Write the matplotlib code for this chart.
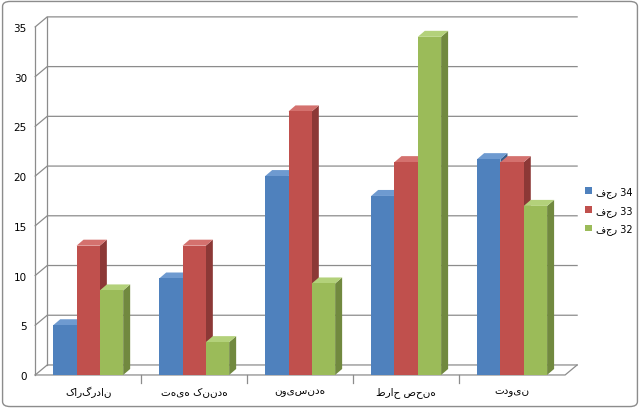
import matplotlib
matplotlib.use("Agg")
import matplotlib.pyplot as plt
from matplotlib.patches import Polygon, Rectangle, FancyBboxPatch
from matplotlib.lines import Line2D

categories = ["کارگردان", "تهیه کننده", "نویسنده", "طراح صحنه", "تدوین"]
series_names = ["فجر 34", "فجر 33", "فجر 32"]
fajr34 = [5.0, 9.7, 20.0, 18.0, 21.7]
fajr33 = [13.0, 13.0, 26.5, 21.4, 21.4]
fajr32 = [8.5, 3.3, 9.2, 34.0, 17.0]
yticks = [0, 5, 10, 15, 20, 25, 30, 35]

front = ["#4F81BD", "#C0504D", "#9BBB59"]
side = ["#385D8A", "#8C3836", "#71893F"]
top = ["#6E9AD0", "#D4716E", "#B3D17A"]

plt.rcParams['font.family'] = ['DejaVu Sans']
fig = plt.figure(figsize=(6.4, 4.1), dpi=100)
fig.patch.set_facecolor("white")
fig.patches.append(FancyBboxPatch((0.004, 0.006), 0.992, 0.988, boxstyle="round,pad=0,rounding_size=0.012",
                                  transform=fig.transFigure, fill=False, ec="#8C8C8C", lw=1))
ax = fig.add_axes([0.055, 0.083, 0.828, 0.849])
ax.set_xlim(-0.5, 4.5)
ax.set_ylim(0, 35)
for s in ax.spines.values():
    s.set_visible(False)
ax.set_facecolor("none")

pxx = 0.828 * 640 / 5.0
pxy = 0.849 * 410 / 35.0
wdx, wdy = 12 / pxx, 10 / pxy   # back-wall depth
bdx, bdy = 7 / pxx, 6 / pxy     # bar depth
grid_c = "#8C8C8C"
for t in yticks:
    ax.add_line(Line2D([-0.5, -0.5 + wdx, 4.5 + wdx], [t, t + wdy, t + wdy], color=grid_c, lw=0.9, clip_on=False))
ax.add_line(Line2D([-0.5 + wdx, -0.5 + wdx], [wdy, 35 + wdy], color=grid_c, lw=0.9, clip_on=False))
ax.add_line(Line2D([-0.5, -0.5], [0, 35], color=grid_c, lw=0.9, clip_on=False))
ax.add_line(Line2D([-0.5, 4.5, 4.5 + wdx], [0, 0, wdy], color=grid_c, lw=0.9, clip_on=False))
for i in range(1, 5):
    ax.add_line(Line2D([i - 0.5, i - 0.5], [0, -0.8], color=grid_c, lw=0.9, clip_on=False))

w = 0.22
data = [fajr34, fajr33, fajr32]
for si, vals in enumerate(data):
    for ci, v in enumerate(vals):
        x0 = ci + (si - 1) * w - w / 2
        x1 = x0 + w
        ax.add_patch(Polygon([(x1, 0), (x1 + bdx, bdy), (x1 + bdx, v + bdy), (x1, v)], closed=True,
                             fc=side[si], ec="none", zorder=3 + si))
        ax.add_patch(Polygon([(x0, v), (x1, v), (x1 + bdx, v + bdy), (x0 + bdx, v + bdy)], closed=True,
                             fc=top[si], ec="none", zorder=3 + si))
        ax.add_patch(Rectangle((x0, 0), w, v, fc=front[si], ec="none", zorder=3 + si))

ax.set_yticks(yticks)
ax.set_yticklabels([str(t) for t in yticks], fontsize=7.5)
ax.tick_params(axis="y", length=0, pad=6)
ax.set_xticks(list(range(5)))
ax.set_xticklabels(categories, fontsize=7.5)
ax.tick_params(axis="x", length=0, pad=8)

handles = [Rectangle((0, 0), 1, 1, fc=front[i]) for i in range(3)]
fig.legend(handles, series_names, loc="center left", bbox_to_anchor=(0.9, 0.485), frameon=False,
           fontsize=7, handlelength=0.7, handleheight=0.7, labelspacing=0.8, handletextpad=0.5)
fig.savefig("out.png", dpi=100)
